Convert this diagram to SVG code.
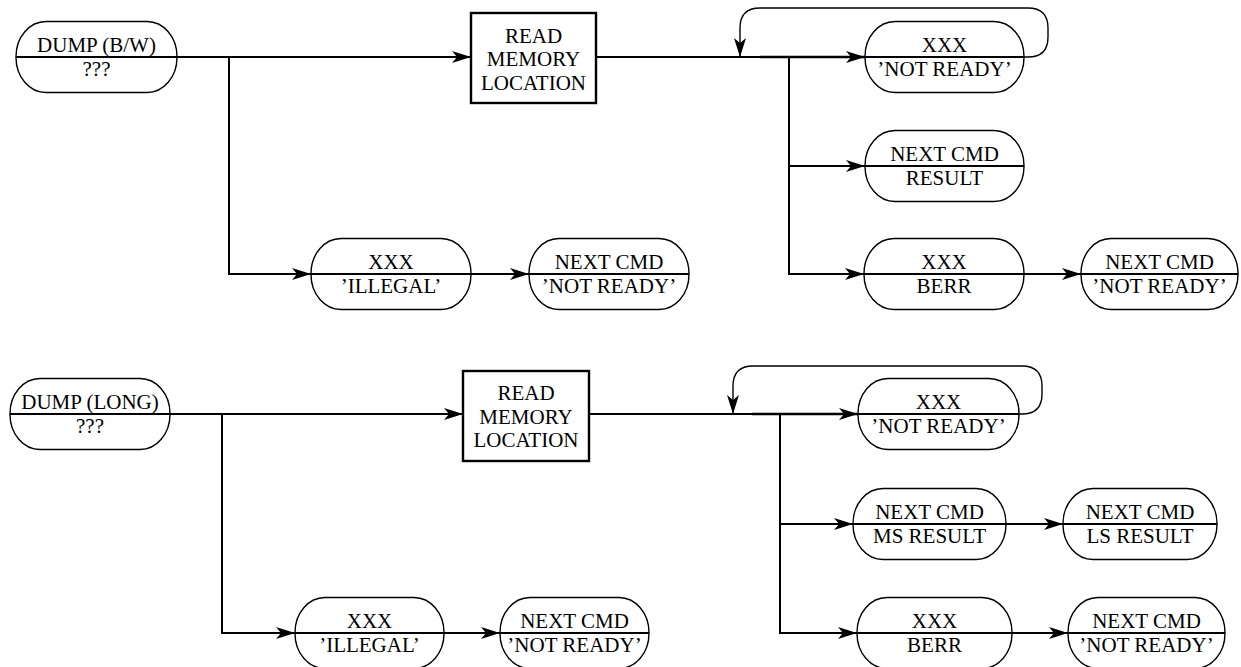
<svg xmlns="http://www.w3.org/2000/svg" width="1241" height="667" viewBox="0 0 1241 667">
<style>
.st{fill:#fff;stroke:#000;stroke-width:1.4}
.bx{fill:#fff;stroke:#000;stroke-width:2.4}
.ml{stroke:#000;stroke-width:2;fill:none}
.c{stroke:#000;stroke-width:2;fill:none;marker-end:url(#ah)}
.cn{stroke:#000;stroke-width:2;fill:none}
.lp{stroke:#000;stroke-width:1.4;fill:none;marker-end:url(#ah)}
.tk{stroke-width:2.6}
text{font-family:"Liberation Serif",Tinos,"Times New Roman",Times,"Noto Serif","DejaVu Serif",FreeSerif,serif;font-size:21px;text-anchor:middle;fill:#000}
</style>
<defs>
<marker id="ah" markerUnits="userSpaceOnUse" markerWidth="22" markerHeight="14" refX="19" refY="6" orient="auto" overflow="visible">
<path d="M0,0 L19,6 L0,12 L5,6 Z" fill="#000"/>
</marker>
</defs>

<g id="connectors">
<path class="c" d="M177,57 H471"/>
<path class="c" d="M229,57 V274 H311"/>
<path class="c" d="M471,274 H529"/>
<path class="cn" d="M596,57 H760"/>
<path class="c tk" d="M760,57 H865"/>
<path class="c" d="M789,57 V274 H864"/>
<path class="c" d="M789,166 H865"/>
<path class="c" d="M1024,274 H1081"/>
<path class="lp" d="M1024,57 H1028 Q1048,57 1048,37 V28 Q1048,8 1028,8 H760 Q740,8 740,28 V57"/>

<path class="c" d="M170,414 H463"/>
<path class="c" d="M222,414 V633 H295"/>
<path class="c" d="M444,633 H500"/>
<path class="cn" d="M589,414 H752"/>
<path class="c tk" d="M752,414 H858"/>
<path class="c" d="M780,414 V633 H857"/>
<path class="c" d="M780,524 H853"/>
<path class="c" d="M1006,524 H1063"/>
<path class="c" d="M1012,633 H1068"/>
<path class="lp" d="M1019,414 H1022 Q1042,414 1042,394 V386 Q1042,366 1022,366 H753 Q733,366 733,386 V414"/>
</g>

<g id="n1"><rect class="st" x="16" y="21.5" width="161" height="71" rx="30" ry="35"/><line class="ml" x1="16" y1="57" x2="177" y2="57"/><text x="96.5" y="52">DUMP (B/W)</text><text x="96.5" y="76">???</text></g>
<g id="n2"><rect class="bx" x="471" y="13" width="125" height="90"/><text x="533.5" y="43">READ</text><text x="533.5" y="66">MEMORY</text><text x="533.5" y="90">LOCATION</text></g>
<g id="n3"><rect class="st" x="311" y="238.5" width="160" height="71" rx="30" ry="35"/><line class="ml" x1="311" y1="274" x2="471" y2="274"/><text x="391" y="269">XXX</text><text x="391" y="293">’ILLEGAL’</text></g>
<g id="n4"><rect class="st" x="529" y="238.5" width="160" height="71" rx="30" ry="35"/><line class="ml" x1="529" y1="274" x2="689" y2="274"/><text x="609" y="269">NEXT CMD</text><text x="609" y="293">’NOT READY’</text></g>
<g id="n5"><rect class="st" x="865" y="21.5" width="159" height="71" rx="30" ry="35"/><line class="ml" x1="865" y1="57" x2="1024" y2="57"/><text x="944.5" y="52">XXX</text><text x="944.5" y="76">’NOT READY’</text></g>
<g id="n6"><rect class="st" x="865" y="130.5" width="159" height="71" rx="30" ry="35"/><line class="ml" x1="865" y1="166" x2="1024" y2="166"/><text x="944.5" y="161">NEXT CMD</text><text x="944.5" y="185">RESULT</text></g>
<g id="n7"><rect class="st" x="864" y="238.5" width="160" height="71" rx="30" ry="35"/><line class="ml" x1="864" y1="274" x2="1024" y2="274"/><text x="944" y="269">XXX</text><text x="944" y="293">BERR</text></g>
<g id="n8"><rect class="st" x="1081" y="238.5" width="157" height="71" rx="30" ry="35"/><line class="ml" x1="1081" y1="274" x2="1238" y2="274"/><text x="1159.5" y="269">NEXT CMD</text><text x="1159.5" y="293">’NOT READY’</text></g>

<g id="m1"><rect class="st" x="10" y="378.5" width="160" height="71" rx="30" ry="35"/><line class="ml" x1="10" y1="414" x2="170" y2="414"/><text x="90" y="409">DUMP (LONG)</text><text x="90" y="433">???</text></g>
<g id="m2"><rect class="bx" x="463" y="371" width="126" height="90"/><text x="526" y="400">READ</text><text x="526" y="423.5">MEMORY</text><text x="526" y="447">LOCATION</text></g>
<g id="m3"><rect class="st" x="295" y="597.5" width="149" height="71" rx="30" ry="35"/><line class="ml" x1="295" y1="633" x2="444" y2="633"/><text x="369.5" y="628">XXX</text><text x="369.5" y="652">’ILLEGAL’</text></g>
<g id="m4"><rect class="st" x="500" y="597.5" width="149" height="71" rx="30" ry="35"/><line class="ml" x1="500" y1="633" x2="649" y2="633"/><text x="574.5" y="628">NEXT CMD</text><text x="574.5" y="652">’NOT READY’</text></g>
<g id="m5"><rect class="st" x="858" y="378.5" width="161" height="71" rx="30" ry="35"/><line class="ml" x1="858" y1="414" x2="1019" y2="414"/><text x="938.5" y="409">XXX</text><text x="938.5" y="433">’NOT READY’</text></g>
<g id="m6"><rect class="st" x="853" y="488.5" width="153" height="71" rx="30" ry="35"/><line class="ml" x1="853" y1="524" x2="1006" y2="524"/><text x="929.5" y="519">NEXT CMD</text><text x="929.5" y="543">MS RESULT</text></g>
<g id="m7"><rect class="st" x="1063" y="488.5" width="154" height="71" rx="30" ry="35"/><line class="ml" x1="1063" y1="524" x2="1217" y2="524"/><text x="1140" y="519">NEXT CMD</text><text x="1140" y="543">LS RESULT</text></g>
<g id="m8"><rect class="st" x="857" y="597.5" width="155" height="71" rx="30" ry="35"/><line class="ml" x1="857" y1="633" x2="1012" y2="633"/><text x="934.5" y="628">XXX</text><text x="934.5" y="652">BERR</text></g>
<g id="m9"><rect class="st" x="1068" y="597.5" width="157" height="71" rx="30" ry="35"/><line class="ml" x1="1068" y1="633" x2="1225" y2="633"/><text x="1146.5" y="628">NEXT CMD</text><text x="1146.5" y="652">’NOT READY’</text></g>
</svg>
